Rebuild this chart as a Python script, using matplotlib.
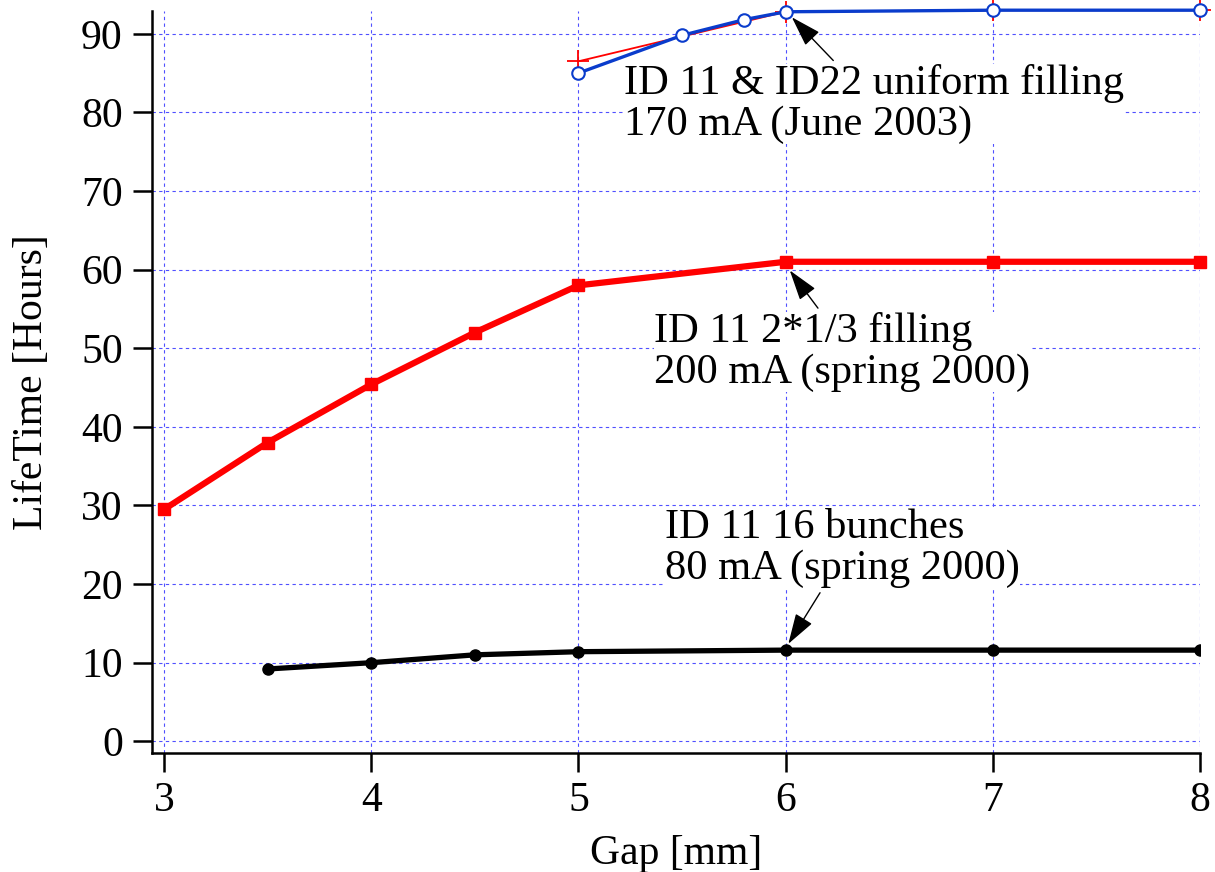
import matplotlib
matplotlib.use("Agg")
import matplotlib.pyplot as plt

plt.rcParams['font.family'] = ['Liberation Serif', 'DejaVu Serif']

# ID 11 16 bunches, 80 mA (spring 2000)
gap_16b = [3.5, 4.0, 4.5, 5.0, 6.0, 7.0, 8.0]
life_16b = [9.2, 10.0, 11.0, 11.4, 11.6, 11.6, 11.6]

# ID 11 2*1/3 filling, 200 mA (spring 2000)
gap_13 = [3.0, 3.5, 4.0, 4.5, 5.0, 6.0, 7.0, 8.0]
life_13 = [29.5, 38.0, 45.4, 52.0, 58.0, 61.0, 61.0, 61.0]

# ID 11 & ID22 uniform filling, 170 mA (June 2003)
gap_uni = [5.0, 5.5, 5.8, 6.0, 7.0, 8.0]
life_uni = [85.0, 89.8, 91.8, 92.8, 93.0, 93.0]
gap_uni_b = [5.0, 6.0, 7.0, 8.0]
life_uni_b = [86.5, 92.8, 93.0, 93.0]

fig = plt.figure(figsize=(12.15, 8.72), dpi=100)
ax = fig.add_axes([0.1251, 0.1368, 0.8626, 0.8506])

ax.grid(True, color='#5050ff', linestyle=(0, (3, 3)), linewidth=0.8)
ax.set_axisbelow(True)

ax.plot(gap_16b, life_16b, color='black', lw=3.8, marker='o', ms=8, zorder=3)
ax.plot(gap_13, life_13, color='red', lw=4.5, marker='s', ms=8, zorder=3, clip_on=False)
ax.plot(gap_uni_b, life_uni_b, color='red', lw=1.3, marker='+', ms=16, mew=1.3,
        zorder=3, clip_on=False)
ax.plot(gap_uni, life_uni, color='#0a3ccc', lw=2.4, marker='o', ms=9, mfc='white',
        mec='#0a3ccc', mew=1.5, zorder=4, clip_on=False)

box = dict(facecolor='white', edgecolor='none', pad=0)
fs = 30.6
ls = 1.09
ax.text(5.22, 86.2, 'ID 11 & ID22 uniform filling\n170 mA (June 2003)', fontsize=fs,
        va='top', ha='left', linespacing=ls, bbox=box, zorder=5)
ax.text(5.365, 54.6, 'ID 11 2*1/3 filling\n200 mA (spring 2000)', fontsize=fs,
        va='top', ha='left', linespacing=ls, bbox=box, zorder=5)
ax.text(5.42, 29.6, 'ID 11 16 bunches\n80 mA (spring 2000)', fontsize=fs,
        va='top', ha='left', linespacing=ls, bbox=box, zorder=5)

arrow = dict(arrowstyle='-|>,head_length=1.9,head_width=0.6', color='black', lw=1.0,
             shrinkA=0, shrinkB=0, mutation_scale=10)
ax.annotate('', xy=(6.03, 92.1), xytext=(6.23, 86.6), arrowprops=arrow, zorder=6)
ax.annotate('', xy=(6.02, 59.9), xytext=(6.156, 55.1), arrowprops=arrow, zorder=6)
ax.annotate('', xy=(6.013, 12.4), xytext=(6.166, 18.9), arrowprops=arrow, zorder=6)

ax.set_xlim(2.942, 8.0)
ax.set_ylim(-1.45, 92.9)
ax.set_xticks([3, 4, 5, 6, 7, 8])
ax.set_yticks(range(0, 91, 10))

for s in ['top', 'right']:
    ax.spines[s].set_visible(False)
for s in ['left', 'bottom']:
    ax.spines[s].set_linewidth(1.8)
ax.tick_params(direction='out', length=14, width=1.8, labelsize=30, pad=7)

ax.set_xlabel('Gap [mm]', fontsize=30, labelpad=10)
ax.set_ylabel('LifeTime [Hours]', fontsize=30, labelpad=22)

fig.savefig('out.png', dpi=100)
